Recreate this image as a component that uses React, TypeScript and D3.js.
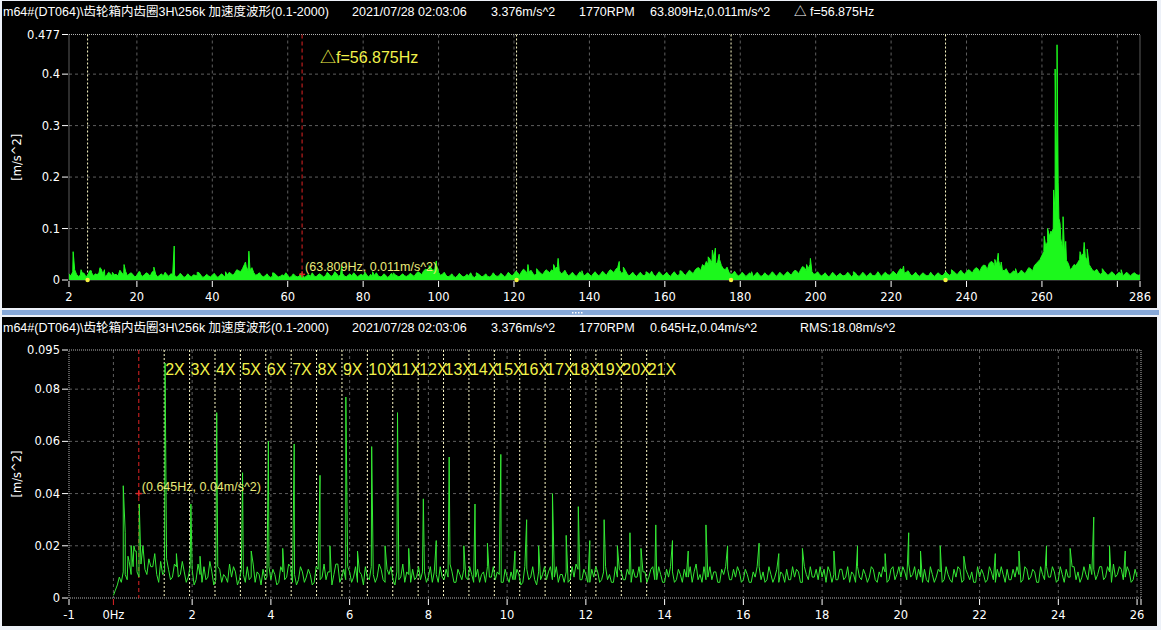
import React from 'react';
import * as d3 from 'd3';

// ---------------- DATA ----------------
const headerTitle = 'm64#(DT064)\\齿轮箱内齿圈3H\\256k 加速度波形(0.1-2000)';
const headerTime = '2021/07/28 02:03:06';
const headerOverall = '3.376m/s^2';
const headerRpm = '1770RPM';
const topHeaderCursor = '63.809Hz,0.011m/s^2';
const topHeaderDelta = '\u25B3 f=56.875Hz';
const bottomHeaderCursor = '0.645Hz,0.04m/s^2';
const bottomHeaderRms = 'RMS:18.08m/s^2';
const yUnit = '[m/s^2]';

// top spectrum: noise floor at whole Hz from 2 Hz (values in 0.001 m/s^2)
const TOP_F0 = 2;
const TOP_STEP = 1;
const topFloor = [
  12, 16, 11, 9, 13, 10, 14, 12, 15, 11,
  9, 12, 10, 8, 14, 17, 12, 10, 9, 11,
  10, 12, 15, 11, 9, 8, 10, 12, 9, 8,
  9, 7, 8, 10, 8, 9, 7, 8, 9, 8,
  9, 8, 10, 12, 14, 18, 22, 26, 20, 14,
  11, 9, 8, 7, 8, 9, 7, 8, 9, 7,
  8, 7, 9, 8, 7, 8, 10, 9, 8, 11,
  9, 12, 10, 8, 9, 8, 10, 9, 8, 9,
  11, 9, 8, 7, 9, 8, 7, 8, 9, 8,
  9, 10, 12, 14, 17, 20, 24, 22, 15, 11,
  9, 8, 7, 8, 9, 7, 8, 7, 8, 9,
  8, 7, 8, 9, 8, 10, 9, 11, 12, 14,
  16, 18, 15, 13, 12, 14, 15, 17, 20, 22,
  18, 14, 12, 11, 10, 11, 12, 10, 11, 12,
  11, 12, 13, 15, 18, 21, 19, 15, 12, 11,
  10, 11, 10, 12, 11, 10, 11, 12, 11, 10,
  12, 11, 13, 12, 14, 16, 19, 24, 30, 36,
  40, 42, 35, 28, 20, 15, 12, 11, 10, 11,
  10, 9, 11, 10, 9, 10, 11, 12, 10, 11,
  12, 13, 15, 17, 20, 24, 22, 16, 12, 11,
  10, 9, 10, 11, 10, 9, 10, 11, 10, 9,
  10, 11, 10, 9, 10, 11, 12, 11, 12, 14,
  17, 19, 15, 12, 11, 10, 11, 10, 9, 10,
  11, 10, 11, 12, 13, 14, 15, 14, 16, 18,
  20, 22, 25, 28, 32, 34, 30, 24, 18, 15,
  14, 15, 14, 16, 18, 22, 28, 36, 48, 65,
  85, 100, 170, 80, 50, 32, 24, 28, 40, 52,
  38, 24, 17, 15, 14, 13, 12, 13, 12, 11,
  12, 11, 12, 11, 10,
];
// top spectrum: noise floor at half Hz from 2.5 Hz (values in 0.001 m/s^2)
const TOP_HALF_F0 = 2.5;
const topFloorHalf = [
  8, 20, 7, 14, 6, 18, 8, 10, 22, 7,
  15, 6, 11, 19, 9, 8, 14, 6, 16, 7,
  14, 7, 18, 6, 12, 15, 7, 11, 6, 13,
  5, 12, 6, 9, 14, 5, 11, 6, 13, 5,
  12, 6, 15, 9, 20, 16, 30, 18, 24, 9,
  14, 6, 12, 5, 13, 6, 10, 14, 5, 12,
  6, 13, 5, 11, 14, 6, 12, 6, 15, 7,
  16, 7, 13, 6, 12, 14, 6, 11, 15, 6,
  7, 14, 6, 12, 5, 13, 10, 6, 12, 7,
  13, 7, 16, 10, 21, 15, 18, 28, 9, 15,
  6, 12, 5, 13, 6, 11, 14, 5, 12, 6,
  12, 6, 14, 7, 13, 6, 15, 8, 17, 9,
  21, 12, 19, 9, 17, 10, 20, 14, 16, 26,
  12, 19, 8, 15, 7, 16, 8, 14, 7, 16,
  8, 17, 9, 20, 14, 24, 13, 19, 8, 15,
  7, 15, 8, 14, 17, 7, 16, 8, 15, 7,
  16, 8, 17, 9, 19, 12, 23, 18, 26, 30,
  34, 30, 40, 22, 25, 11, 17, 8, 15, 7,
  14, 6, 15, 7, 14, 8, 16, 7, 15, 8,
  16, 9, 19, 12, 26, 18, 30, 11, 16, 8,
  14, 6, 15, 7, 13, 8, 15, 6, 14, 7,
  15, 7, 14, 8, 16, 7, 15, 9, 17, 10,
  22, 13, 18, 8, 15, 7, 14, 8, 15, 7,
  14, 8, 16, 9, 17, 10, 19, 11, 20, 13,
  24, 16, 29, 20, 36, 25, 38, 19, 22, 11,
  18, 11, 19, 12, 24, 17, 32, 40, 55, 75,
  90, 130, 120, 60, 38, 20, 30, 34, 46, 45,
  30, 18, 21, 11, 17, 9, 16, 8, 15, 8,
  15, 8, 14, 9,
];
// top spectrum: individual lines [Hz, m/s^2]
const topPeaks: [number, number][] = [
  [3.1, 0.055], [5.2, 0.02], [7.9, 0.018], [10.2, 0.024], [11.4, 0.02], [13.5, 0.015],
  [16.6, 0.03], [20.8, 0.016], [24.5, 0.025], [29.9, 0.066], [36, 0.015], [43.5, 0.016],
  [48.8, 0.035], [49.7, 0.056], [56, 0.014], [74.3, 0.026], [82.5, 0.016], [88, 0.014],
  [97.5, 0.028], [99.4, 0.037], [110, 0.014], [123.7, 0.03], [126, 0.022], [130.5, 0.03],
  [131.7, 0.042], [138, 0.018], [147.9, 0.036], [149, 0.025], [155, 0.016], [164, 0.018],
  [171.5, 0.045], [172.6, 0.058], [173.4, 0.062], [174.4, 0.05], [183, 0.016], [197.6, 0.03],
  [198.6, 0.042], [210, 0.016], [223.3, 0.027], [236, 0.02], [247.5, 0.04], [248.4, 0.052],
  [249.2, 0.035], [253, 0.022], [260.6, 0.085], [261.5, 0.1], [262.4, 0.095], [263.1, 0.175],
  [263.5, 0.41], [264.0, 0.457], [264.3, 0.19], [264.8, 0.11], [265.6, 0.123], [266.3, 0.075],
  [270.1, 0.055], [271.2, 0.073], [272, 0.06], [276, 0.022], [281, 0.02],
];
const topXTicks = [2, 20, 40, 60, 80, 100, 120, 140, 160, 180, 200, 220, 240, 260, 280, 286];
const topXTickLabels = ['2', '20', '40', '60', '80', '100', '120', '140', '160', '180', '200', '220', '240', '260', '', '286'];
const topXGrid = [20, 40, 60, 80, 100, 120, 140, 160, 180, 200, 220, 240, 260, 280];
const topYTicks = [0, 0.1, 0.2, 0.3, 0.4, 0.477];
const topYTickLabels = ['0', '0.1', '0.2', '0.3', '0.4', '0.477'];
const topYGrid = [0.1, 0.2, 0.3, 0.4];
const topCursorHz = 63.809;
const topCursorAmp = 0.011;
const topDeltaF = 56.875;
const topSidebandOrders = [-1, 1, 2, 3];
const topCursorLabel = '(63.809Hz, 0.011m/s^2)';
const topDeltaLabel = '\u25B3f=56.875Hz';

// bottom spectrum: floor at every 0.1 Hz from 0 Hz (values in 0.001 m/s^2)
const BOT_F0 = 0;
const BOT_STEP = 0.1;
const bottomFloor = [
  1, 5, 6, 9, 14, 12, 10, 13, 11, 15,
  12, 9, 14, 10, 11, 8, 12, 9, 10, 8,
  11, 7, 9, 12, 8, 10, 7, 11, 9, 6,
  8, 10, 7, 9, 12, 8, 6, 9, 11, 8,
  7, 9, 6, 10, 8, 12, 9, 7, 10, 8,
  9, 6, 11, 8, 7, 10, 9, 13, 8, 7,
  10, 8, 6, 9, 12, 7, 9, 8, 11, 6,
  9, 7, 10, 8, 6, 9, 11, 8, 7, 10,
  8, 6, 9, 12, 7, 8, 10, 6, 9, 11,
  7, 9, 8, 6, 10, 12, 8, 7, 9, 6,
  8, 10, 7, 9, 6, 11, 8, 7, 10, 9,
  7, 12, 8, 6, 9, 10, 7, 8, 11, 7,
  9, 6, 8, 10, 7, 12, 9, 6, 8, 10,
  7, 9, 11, 8, 6, 10, 8, 12, 7, 9,
  6, 8, 10, 7, 9, 11, 8, 6, 13, 9,
  12, 8, 7, 10, 6, 9, 11, 7, 8, 10,
  7, 9, 6, 8, 12, 10, 7, 9, 8, 6,
  9, 11, 7, 8, 10, 6, 9, 12, 8, 7,
  8, 6, 10, 9, 7, 11, 8, 6, 9, 12,
  7, 9, 8, 11, 6, 8, 10, 7, 12, 9,
  8, 10, 13, 9, 7, 8, 11, 6, 9, 8,
  10, 7, 9, 6, 8, 11, 7, 9, 10, 6,
  8, 9, 7, 10, 6, 8, 9, 11, 7, 8,
  9, 7, 11, 8, 10, 6, 9, 12, 8, 10,
  7, 9, 11, 8, 12, 10, 8, 9, 13, 11,
  9, 12, 8, 10, 13, 9, 11, 8, 10, 7,
  8,
];
// bottom spectrum: floor at the 0.05 Hz midpoints (values in 0.001 m/s^2)
const BOT_MID_F0 = 0.05;
const bottomFloorMid = [
  3, 8, 10, 7, 9, 18, 8, 20, 9, 12,
  17, 6, 9, 15, 7, 13, 8, 14, 6, 12,
  5, 13, 6, 7, 14, 5, 12, 6, 8, 13,
  12, 5, 11, 6, 7, 13, 10, 5, 7, 12,
  11, 5, 12, 7, 13, 6, 5, 12, 6, 11,
  5, 12, 7, 13, 10, 5, 13, 6, 11, 12,
  6, 12, 10, 5, 8, 12, 6, 13, 7, 11,
  12, 5, 7, 13, 10, 6, 7, 12, 10, 6,
  12, 10, 6, 8, 11, 13, 6, 11, 7, 8,
  12, 6, 11, 9, 6, 8, 12, 10, 6, 11,
  6, 7, 11, 5, 12, 7, 12, 5, 7, 12,
  10, 7, 12, 9, 6, 6, 12, 13, 7, 11,
  6, 11, 12, 6, 10, 7, 6, 12, 11, 7,
  11, 6, 8, 12, 10, 6, 11, 7, 12, 6,
  11, 12, 6, 11, 6, 8, 12, 10, 7, 6,
  7, 12, 10, 6, 11, 12, 7, 11, 12, 6,
  11, 6, 10, 12, 7, 6, 12, 6, 11, 10,
  6, 7, 12, 11, 6, 12, 7, 8, 11, 12,
  11, 12, 6, 7, 11, 7, 12, 10, 6, 8,
  11, 6, 12, 7, 10, 12, 6, 11, 7, 12,
  12, 7, 8, 12, 11, 6, 7, 12, 6, 11,
  6, 12, 7, 11, 12, 6, 11, 7, 6, 12,
  11, 6, 12, 7, 11, 12, 6, 7, 11, 12,
  6, 12, 7, 11, 6, 12, 7, 8, 12, 6,
  12, 6, 8, 12, 7, 6, 12, 7, 9, 7,
  12, 7, 12, 6, 8, 12, 7, 12, 6, 11,
];
// bottom spectrum: individual lines [Hz, m/s^2]
const bottomPeaks: [number, number][] = [
  [0.25, 0.043], [0.3, 0.025], [0.37, 0.016], [0.45, 0.02], [0.52, 0.02], [0.58, 0.018],
  [0.656, 0.036], [1.312, 0.09], [1.6, 0.017], [1.968, 0.036], [2.2, 0.016], [2.624, 0.071],
  [3.28, 0.048], [3.5, 0.018], [3.936, 0.06], [4.3, 0.019], [4.592, 0.059], [5.248, 0.047],
  [5.5, 0.02], [5.904, 0.077], [6.2, 0.018], [6.56, 0.058], [6.9, 0.02], [7.216, 0.071],
  [7.5, 0.019], [7.872, 0.038], [8.2, 0.022], [8.528, 0.054], [8.9, 0.02], [9.184, 0.036],
  [9.5, 0.021], [9.84, 0.055], [10.2, 0.018], [10.496, 0.03], [10.8, 0.02], [11.152, 0.04],
  [11.5, 0.024], [11.808, 0.035], [12.1, 0.022], [12.464, 0.03], [12.8, 0.02], [13.12, 0.025],
  [13.4, 0.019], [13.776, 0.028], [14.2, 0.022], [14.6, 0.018], [15.05, 0.028], [15.6, 0.02],
  [16.4, 0.021], [16.9, 0.017], [17.5, 0.019], [18.3, 0.018], [18.9, 0.02], [19.6, 0.017],
  [20.2, 0.025], [20.5, 0.018], [21.0, 0.02], [21.6, 0.016], [22.4, 0.017], [23.0, 0.018],
  [23.7, 0.02], [24.3, 0.019], [24.9, 0.031], [25.3, 0.02], [25.7, 0.018],
];
const bottomXTicks = [-1.128, 0, 2, 4, 6, 8, 10, 12, 14, 16, 18, 20, 22, 24, 26, 26.1];
const bottomXTickLabels = ['-1', '0Hz', '2', '4', '6', '8', '10', '12', '14', '16', '18', '20', '22', '24', '26', ''];
const bottomXGrid = [0, 2, 4, 6, 8, 10, 12, 14, 16, 18, 20, 22, 24, 26];
const bottomYTicks = [0, 0.02, 0.04, 0.06, 0.08, 0.095];
const bottomYTickLabels = ['0', '0.02', '0.04', '0.06', '0.08', '0.095'];
const bottomYGrid = [0.02, 0.04, 0.06, 0.08];
const bottomCursorHz = 0.645;
const bottomCursorAmp = 0.04;
const harmonicOrders = [2, 3, 4, 5, 6, 7, 8, 9, 10, 11, 12, 13, 14, 15, 16, 17, 18, 19, 20, 21];
const bottomCursorLabel = '(0.645Hz, 0.04m/s^2)';

// ---------------- DRAW ----------------
const W = 1161;
const H = 630;
const FONT = "'DejaVu Sans', 'Noto Sans CJK SC', sans-serif";
const HFONT = "'Liberation Sans', 'Noto Sans CJK SC', sans-serif";
const GREEN_TOP = '#1cf81c';
const GREEN_BOT = '#34e834';
const YELLOW = '#f2f24a';
const PALE_YELLOW = '#eaea78';
const RED = '#e02424';
const DOT_LINE = '#fffcc8';

type Pt = [number, number];
interface FloorSet { f0: number; step: number; values: number[] }

function buildSeries(floors: FloorSet[], peaks: Pt[]): Pt[] {
  const pts: Pt[] = [];
  floors.forEach((fs) => fs.values.forEach((v, i) => pts.push([fs.f0 + i * fs.step, v * 0.001])));
  return [...pts, ...peaks].sort((a, b) => a[0] - b[0]);
}

function Header({ y, items }: { y: number; items: { x: number; t: string }[] }) {
  return (
    <g fontFamily={HFONT} fontSize={12.5} fill="#ffffff">
      {items.map((it, i) => (
        <text key={i} x={it.x} y={y}>{it.t}</text>
      ))}
    </g>
  );
}

interface AxesProps {
  x: d3.ScaleLinear<number, number>;
  y: d3.ScaleLinear<number, number>;
  xTicks: number[];
  xLabels: string[];
  xGrid: number[];
  yTicks: number[];
  yLabels: string[];
  yGrid: number[];
  redTick?: number;
}

function Axes({ x, y, xTicks, xLabels, xGrid, yTicks, yLabels, yGrid, redTick }: AxesProps) {
  const [x0, x1] = x.range();
  const [yb, yt] = y.range();
  return (
    <g>
      {xGrid.map((v, i) => (
        <line key={'gx' + i} x1={x(v)} x2={x(v)} y1={yt} y2={yb} stroke="#5e5e5e" strokeDasharray="3,3" />
      ))}
      {yGrid.map((v, i) => (
        <line key={'gy' + i} x1={x0} x2={x1} y1={y(v)} y2={y(v)} stroke="#5e5e5e" strokeDasharray="3,3" />
      ))}
      <rect x={x0} y={yt} width={x1 - x0} height={yb - yt} fill="none" stroke="#b4b4b4" strokeDasharray="1,1" />
      <g fontFamily={FONT} fontSize={11.5} fill="#ffffff">
        {yTicks.map((v, i) => (
          <g key={'yt' + i}>
            <line x1={x0 - 7} x2={x0 - 1} y1={y(v)} y2={y(v)} stroke="#ffffff" />
            <text x={x0 - 9} y={y(v) + 4} textAnchor="end">{yLabels[i]}</text>
          </g>
        ))}
        {xTicks.map((v, i) => (
          <g key={'xt' + i}>
            <line x1={x(v)} x2={x(v)} y1={yb + 1} y2={yb + 7} stroke={redTick === v ? RED : '#ffffff'} />
            {xLabels[i] ? (
              <text x={x(v)} y={yb + 21} textAnchor="middle">{xLabels[i]}</text>
            ) : null}
          </g>
        ))}
      </g>
      <text
        transform={`translate(21,${(yt + yb) / 2}) rotate(-90)`}
        textAnchor="middle"
        fontFamily={FONT}
        fontSize={11.5}
        fill="#ffffff"
      >
        {yUnit}
      </text>
    </g>
  );
}

function CrossMarker({ cx, cy }: { cx: number; cy: number }) {
  return (
    <g stroke={RED}>
      <line x1={cx - 3} x2={cx + 3} y1={cy} y2={cy} strokeWidth={1.5} />
      <line x1={cx} x2={cx} y1={cy - 3} y2={cy + 3} strokeWidth={1.5} />
    </g>
  );
}

function TopPanel() {
  const x = d3.scaleLinear().domain([2, 286]).range([69, 1140]);
  const y = d3.scaleLinear().domain([0, 0.477]).range([280, 34.5]);
  const series = buildSeries(
    [
      { f0: TOP_F0, step: TOP_STEP, values: topFloor },
      { f0: TOP_HALF_F0, step: TOP_STEP, values: topFloorHalf },
    ],
    topPeaks,
  );
  const area = d3.area<Pt>().x((d) => x(d[0])).y0(y(0)).y1((d) => y(d[1]))(series) || '';
  const line = d3.line<Pt>().x((d) => x(d[0])).y((d) => y(d[1]))(series) || '';
  const [yb, yt] = y.range();
  const sidebands = topSidebandOrders.map((k) => topCursorHz + k * topDeltaF);
  return (
    <g>
      <Axes x={x} y={y} xTicks={topXTicks} xLabels={topXTickLabels} xGrid={topXGrid}
        yTicks={topYTicks} yLabels={topYTickLabels} yGrid={topYGrid} />
      {sidebands.map((f, i) => (
        <line key={'sb' + i} x1={x(f)} x2={x(f)} y1={yt} y2={yb} stroke={DOT_LINE} strokeDasharray="2,2" />
      ))}
      <line x1={x(topCursorHz)} x2={x(topCursorHz)} y1={yt} y2={yb} stroke={RED} strokeDasharray="4,3" />
      <path d={area} fill={GREEN_TOP} />
      <path d={line} fill="none" stroke={GREEN_TOP} strokeWidth={1} />
      {sidebands.map((f, i) => (
        <circle key={'sd' + i} cx={x(f)} cy={yb} r={2.2} fill="#f4f040" />
      ))}
      <CrossMarker cx={x(topCursorHz)} cy={y(topCursorAmp)} />
      <text x={x(topCursorHz) + 3} y={y(topCursorAmp) - 3} fontFamily={HFONT} fontSize={12.5} fill={PALE_YELLOW}>
        {topCursorLabel}
      </text>
      <text x={320} y={63} fontFamily={HFONT} fontSize={16} fill={YELLOW}>{topDeltaLabel}</text>
    </g>
  );
}

function BottomPanel() {
  const x = d3.scaleLinear().domain([-1.128, 26.1]).range([69, 1141]);
  const y = d3.scaleLinear().domain([0, 0.095]).range([598, 350]);
  const series = buildSeries(
    [
      { f0: BOT_F0, step: BOT_STEP, values: bottomFloor },
      { f0: BOT_MID_F0, step: BOT_STEP, values: bottomFloorMid },
    ],
    bottomPeaks,
  );
  const line = d3.line<Pt>().x((d) => x(d[0])).y((d) => y(d[1]))(series) || '';
  const [yb, yt] = y.range();
  return (
    <g>
      <Axes x={x} y={y} xTicks={bottomXTicks} xLabels={bottomXTickLabels} xGrid={bottomXGrid}
        yTicks={bottomYTicks} yLabels={bottomYTickLabels} yGrid={bottomYGrid} redTick={0} />
      {harmonicOrders.map((k) => (
        <line key={'h' + k} x1={x(k * bottomCursorHz)} x2={x(k * bottomCursorHz)} y1={yt} y2={yb}
          stroke={DOT_LINE} strokeDasharray="2,2" />
      ))}
      <line x1={x(bottomCursorHz)} x2={x(bottomCursorHz)} y1={yt} y2={yb} stroke={RED} strokeDasharray="4,3" />
      <path d={line} fill="none" stroke={GREEN_BOT} strokeWidth={1} />
      <g fontFamily={HFONT} fontSize={16} fill={YELLOW}>
        {harmonicOrders.map((k) => (
          <text key={'hl' + k} x={x(k * bottomCursorHz) + 1} y={375}>{k + 'X'}</text>
        ))}
      </g>
      <CrossMarker cx={x(bottomCursorHz)} cy={y(bottomCursorAmp)} />
      <text x={x(bottomCursorHz) + 3} y={y(bottomCursorAmp) - 3} fontFamily={HFONT} fontSize={12.5} fill={PALE_YELLOW}>
        {bottomCursorLabel}
      </text>
    </g>
  );
}

export default function App() {
  return (
    <div style={{ position: 'absolute', left: 0, top: 0, width: W, height: H }}>
      <svg width={W} height={H} style={{ display: 'block' }}>
        <rect width={W} height={H} fill="#edf1f8" />
        <rect x={2} y={1} width={1155} height={307} fill="#000000" />
        <rect x={2} y={310} width={1157} height={5} fill="#86a8d8" />
        {[0, 1, 2, 3].map((i) => (
          <rect key={i} x={572 + i * 3} y={312} width={1.5} height={1.5} fill="#ffffff" />
        ))}
        <rect x={2} y={317} width={1155} height={309} fill="#000000" />
        <Header y={16} items={[
          { x: 3, t: headerTitle }, { x: 352, t: headerTime }, { x: 491, t: headerOverall },
          { x: 579, t: headerRpm }, { x: 650, t: topHeaderCursor }, { x: 794, t: topHeaderDelta },
        ]} />
        <Header y={332} items={[
          { x: 3, t: headerTitle }, { x: 352, t: headerTime }, { x: 491, t: headerOverall },
          { x: 579, t: headerRpm }, { x: 650, t: bottomHeaderCursor }, { x: 800, t: bottomHeaderRms },
        ]} />
        <TopPanel />
        <BottomPanel />
      </svg>
    </div>
  );
}
